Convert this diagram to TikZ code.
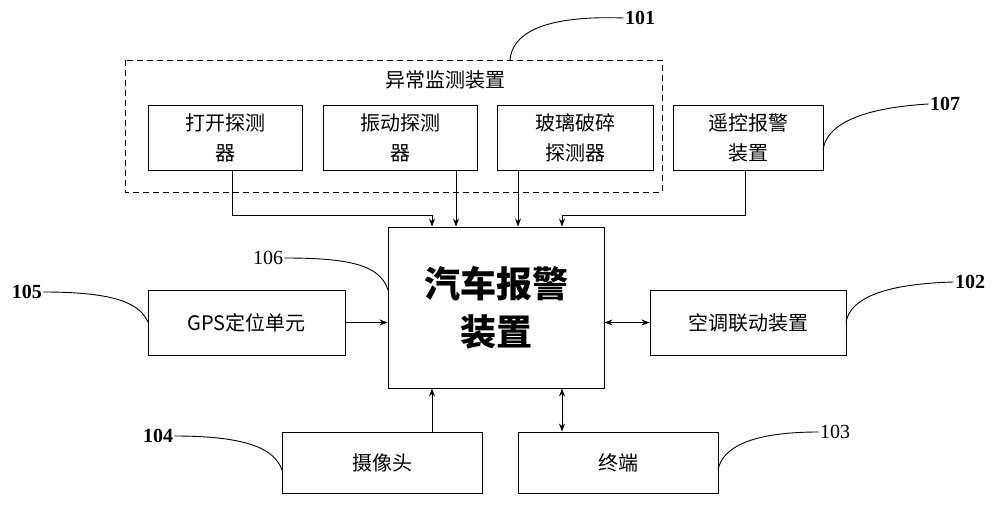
\documentclass[tikz,border=0pt]{standalone}
\usepackage{fontspec}
\setmainfont{Liberation Serif}
\newfontfamily\cjk{Noto Sans CJK SC}
\usetikzlibrary{arrows.meta}
\tikzset{every picture/.style={line width=0.9pt},
  unit/.style={draw,minimum width=#1,minimum height=65pt,inner sep=1pt,align=center,font=\cjk\fontsize{20}{30}\selectfont},
  lbl/.style={font=\bfseries\fontsize{20}{22}\selectfont,inner sep=1pt},
  lbln/.style={font=\fontsize{20}{22}\selectfont,inner sep=1pt},
  arr/.style={-{Stealth[length=8pt,width=6pt]}},
  darr/.style={{Stealth[length=8pt,width=6pt]}-{Stealth[length=8pt,width=6pt]}}}
\begin{document}
\begin{tikzpicture}[x=1pt,y=1pt,yscale=-1]
\useasboundingbox (0,0) rectangle (1000,505);

%Dashed group
\draw [dash pattern={on 6pt off 4pt}] (125,60) rectangle (662,192);
\node [font=\cjk\fontsize{20}{24}\selectfont] (grp) at (445,80) {异常监测装置};

% Boxes
\node [unit=154pt] (open) at (225,137.5) {打开探测\\器};
\node [unit=154pt] (vib) at (400,137.5) {振动探测\\器};
\node [unit=156pt] (glass) at (575,137.5) {玻璃破碎\\探测器};
\node [unit=150pt] (remote) at (748,137.5) {遥控报警\\装置};
\node [draw,minimum width=216pt,minimum height=161pt,align=center,font=\cjk\bfseries\fontsize{36}{48}\selectfont] (alarm) at (496,307.5) {汽车报警\\装置};
\node [unit=197pt] (gps) at (246.5,322.5) {GPS定位单元};
\node [unit=196pt] (ac) at (748,322.5) {空调联动装置};
\node [unit=200pt,minimum height=61pt] (cam) at (382,462.5) {摄像头};
\node [unit=200pt,minimum height=61pt] (term) at (618,462.5) {终端};

% Connectors
\draw [arr] (open.south -| 232,0) |- (432,215) -- (alarm.north -| 432,0);
\draw [arr] (vib.south -| 456,0) -- (alarm.north -| 456,0);
\draw [arr] (glass.south -| 518,0) -- (alarm.north -| 518,0);
\draw [arr] (remote.south -| 745,0) |- (562,215) -- (alarm.north -| 562,0);
\draw [arr] (gps) -- (alarm.west |- gps);
\draw [darr] (alarm.east |- ac) -- (ac);
\draw [arr] (cam.north -| 432,0) -- (alarm.south -| 432,0);
\draw [darr] (alarm.south -| 562,0) -- (term.north -| 562,0);

% Reference labels
\node [lbl] (n101) at (640,18) {101};
\node [lbl] (n107) at (945,104) {107};
\node [lbl] (n105) at (27,292) {105};
\node [lbln] (n106) at (268,258) {106};
\node [lbl] (n102) at (970,282) {102};
\node [lbl] (n104) at (158,436) {104};
\node [lbln] (n103) at (835,432) {103};
\draw (n101.west) .. controls (540,15) and (512,35) .. (510,60);
\draw (n107.west) .. controls (860,108) and (826,125) .. (823,150);
\draw (n105.east) .. controls (120,292) and (140,305) .. (148,322);
\draw (n106.east) .. controls (350,258) and (380,265) .. (388,290);
\draw (n102.west) .. controls (880,284) and (850,300) .. (846,322);
\draw (n104.east) .. controls (250,436) and (275,450) .. (282,470);
\draw (n103.west) .. controls (750,432) and (722,448) .. (718,470);
\end{tikzpicture}
\end{document}
